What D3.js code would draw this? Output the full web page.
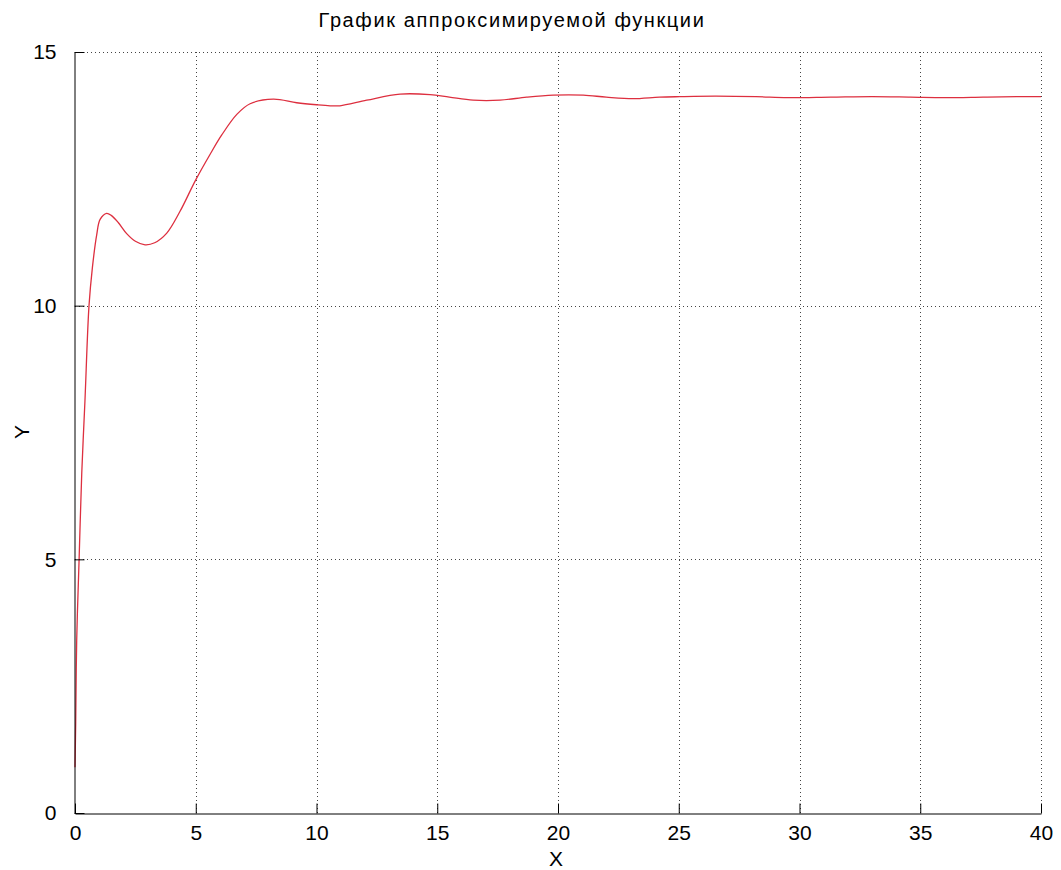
<!DOCTYPE html>
<html>
<head>
<meta charset="utf-8">
<script src="https://cdn.jsdelivr.net/npm/d3@7"></script>
<style>
  html, body { margin: 0; padding: 0; background: #fff; }
  svg { display: block; }
  text { font-family: "Liberation Sans", Arial, Helvetica, sans-serif; fill: #000; }
</style>
</head>
<body>
<svg id="chart" width="1061" height="870"></svg>
<script>
// Sampled points of the approximated function
const xValues = [0, 0.03, 0.07, 0.17, 0.28, 0.41, 0.58, 0.72, 0.9, 1.04, 1.31, 1.5, 1.79, 2.14, 2.5, 2.9, 3.3, 3.8, 4.35, 5.0, 5.59, 6.07, 6.7, 7.25, 8.21, 9.18, 10.0, 10.56, 10.97, 12.08, 13.46, 14.7, 15.5, 16.49, 17.6, 18.7, 19.8, 21.05, 22.0, 23.1, 24.2, 25.05, 26.5, 28.2, 29.5, 31.3, 33.0, 34.6, 36.0, 37.6, 39.0, 40.0];
const yValues = [0.9, 1.8, 3.4, 5.0, 6.7, 8.1, 10.0, 10.75, 11.4, 11.7, 11.82, 11.78, 11.64, 11.42, 11.27, 11.2, 11.24, 11.43, 11.86, 12.48, 12.98, 13.36, 13.77, 13.98, 14.07, 14.00, 13.96, 13.94, 13.94, 14.05, 14.17, 14.16, 14.11, 14.05, 14.05, 14.11, 14.15, 14.15, 14.11, 14.08, 14.11, 14.12, 14.13, 14.12, 14.10, 14.11, 14.12, 14.11, 14.10, 14.11, 14.12, 14.12];

const xTicks = [0, 5, 10, 15, 20, 25, 30, 35, 40];
const yTicks = [0, 5, 10, 15];

const titleText = "График аппроксимируемой функции";
const xLabel = "X";
const yLabel = "Y";

const points = xValues.map((x, i) => ({ x, y: yValues[i] }));

const svg = d3.select("#chart");
const plot = { left: 75, right: 1041, top: 52, bottom: 813 };

const x = d3.scaleLinear().domain([0, 40]).range([plot.left, plot.right]);
const y = d3.scaleLinear().domain([0, 15]).range([plot.bottom, plot.top]);

// Dotted grid
const grid = svg.append("g")
  .attr("stroke", "#444")
  .attr("stroke-width", 1)
  .attr("stroke-dasharray", "1,3");
grid.selectAll("line.vx").data(xTicks.filter(d => d > 0)).join("line")
  .attr("x1", d => Math.round(x(d)) + 0.5).attr("x2", d => Math.round(x(d)) + 0.5)
  .attr("y1", plot.top).attr("y2", plot.bottom);
grid.selectAll("line.hy").data(yTicks.filter(d => d > 0)).join("line")
  .attr("x1", plot.left).attr("x2", plot.right)
  .attr("y1", d => Math.round(y(d)) + 0.5).attr("y2", d => Math.round(y(d)) + 0.5);

// Curve
const line = d3.line()
  .x(d => x(d.x))
  .y(d => y(d.y))
  .curve(d3.curveCatmullRom.alpha(0.5));

svg.append("path")
  .datum(points)
  .attr("fill", "none")
  .attr("stroke", "#dd2f3f")
  .attr("stroke-width", 1.3)
  .attr("d", line);

// Axes: ticks point inward, labels outside
const xAxis = d3.axisBottom(x).tickValues(xTicks).tickSizeInner(-10).tickSizeOuter(0).tickPadding(16);
const yAxis = d3.axisLeft(y).tickValues(yTicks).tickSizeInner(-10).tickSizeOuter(0).tickPadding(18);

const gx = svg.append("g")
  .attr("transform", `translate(0,${plot.bottom + 0.5})`)
  .call(xAxis);
const gy = svg.append("g")
  .attr("transform", `translate(${plot.left - 0.5},0)`)
  .call(yAxis);

[gx, gy].forEach(g => {
  g.select(".domain").attr("stroke", "#000").attr("stroke-width", 1);
  g.selectAll(".tick line").attr("stroke", "#000").attr("stroke-width", 1);
  g.selectAll(".tick text")
    .style("font-family", '"Liberation Sans", Arial, sans-serif')
    .style("font-size", "21px")
    .attr("fill", "#000");
});
gx.selectAll(".tick text").attr("dy", "0.71em").attr("y", 12);

// Title and axis labels
svg.append("text")
  .attr("x", 512).attr("y", 27)
  .attr("text-anchor", "middle")
  .style("font-size", "20px")
  .style("letter-spacing", "1.6px")
  .text(titleText);

svg.append("text")
  .attr("x", 556).attr("y", 866)
  .attr("text-anchor", "middle")
  .style("font-size", "21px")
  .text(xLabel);

svg.append("text")
  .attr("transform", "translate(29,432) rotate(-90)")
  .attr("text-anchor", "middle")
  .style("font-size", "21px")
  .text(yLabel);
</script>
</body>
</html>
